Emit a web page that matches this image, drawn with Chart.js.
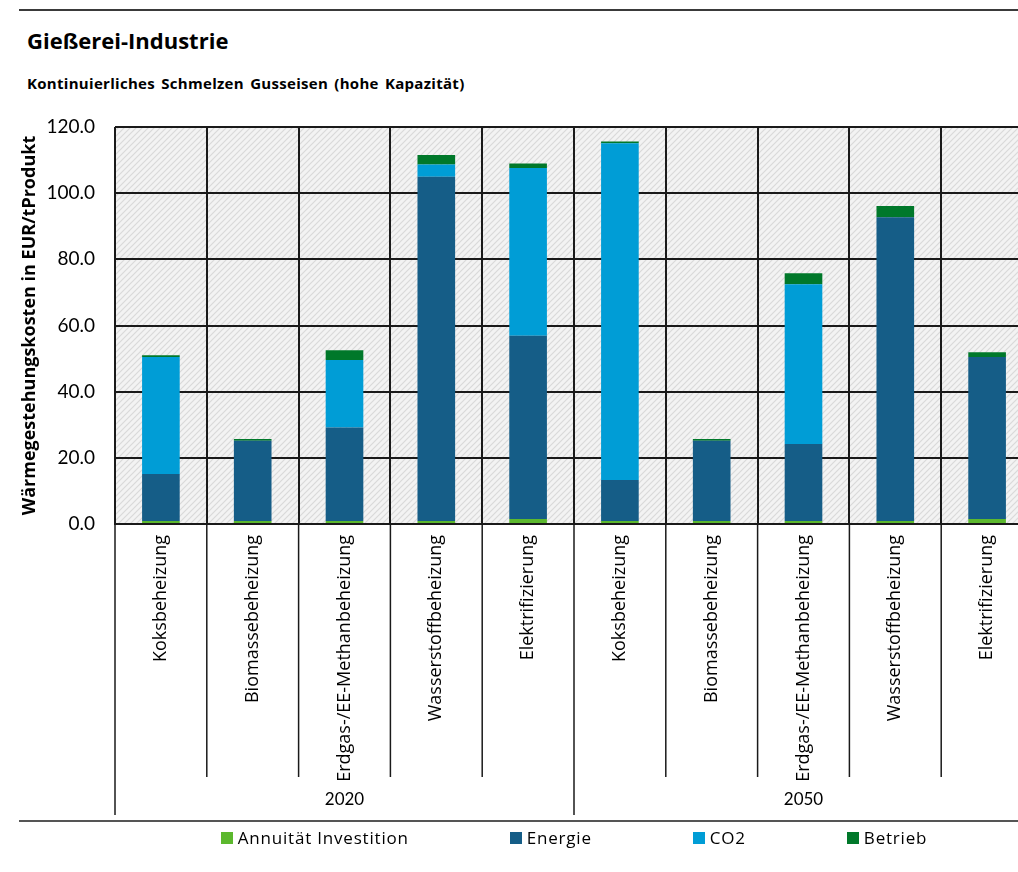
<!DOCTYPE html>
<html>
<head>
<meta charset="utf-8">
<script src="https://cdn.jsdelivr.net/npm/chart.js@4.4.0/dist/chart.umd.min.js"></script>
<style>
    body {
        margin: 0;
        width: 1018px;
        height: 872px;
        overflow: hidden;
        background: #fff;
        position: relative;
        font-family: "Open Sans", sans-serif;
    }
    #costChart {
        position: absolute;
        left: 0;
        top: 0;
    }
    .rule {
        position: absolute;
        left: 19px;
        right: 0;
        height: 2px;
    }
    .title {
        position: absolute;
        left: 27px;
        top: 25px;
        line-height: 1;
        font: bold 22px "Open Sans", sans-serif;
        color: #000;
    }
    .subtitle {
        position: absolute;
        left: 27px;
        top: 73px;
        line-height: 1;
        font: bold 15px "Open Sans", sans-serif;
        letter-spacing: 0.3px;
        word-spacing: 2px;
        color: #000;
    }
    #legend {
        position: absolute;
        left: 115px;
        width: 918px;
        top: 826px;
        display: flex;
        justify-content: center;
        gap: 101px;
        font: 17px "Open Sans", sans-serif;
        letter-spacing: 0.8px;
        color: #000;
    }
    #legend span.item {
        display: flex;
        align-items: center;
        gap: 5px;
    }
    #legend span.box {
        width: 12px;
        height: 12px;
        display: inline-block;
    }
</style>
</head>
<body>
<div class="rule" style="top:9px;background:#3a3a3a"></div>
<div class="title">Gießerei-Industrie</div>
<div class="subtitle">Kontinuierliches Schmelzen Gusseisen (hohe Kapazität)</div>
<canvas id="costChart" width="1040" height="872"></canvas>
<div class="rule" style="top:820px;background:#555"></div>
<div id="legend"></div>

<script>
const categories = [
    "Koksbeheizung",
    "Biomassebeheizung",
    "Erdgas-/EE-Methanbeheizung",
    "Wasserstoffbeheizung",
    "Elektrifizierung",
    "Koksbeheizung",
    "Biomassebeheizung",
    "Erdgas-/EE-Methanbeheizung",
    "Wasserstoffbeheizung",
    "Elektrifizierung",
];
const years = ["2020", "2050"];

const annuitaet = [0.9, 0.9, 0.9, 0.9, 1.5, 0.9, 0.9, 0.9, 0.9, 1.5];
const energie = [14.2, 24.3, 28.3, 104.1, 55.4, 12.4, 24.3, 23.3, 91.8, 49.0];
const co2 = [35.4, 0, 20.4, 3.7, 50.7, 101.8, 0, 48.3, 0, 0];
const betrieb = [0.5, 0.5, 2.9, 2.8, 1.4, 0.5, 0.5, 3.3, 3.4, 1.4];

const seriesNames = ["Annuität Investition", "Energie", "CO2", "Betrieb"];
const seriesColors = ["#5cb82e", "#155d87", "#009dd6", "#00782a"];

function makeHatch() {
    const c = document.createElement("canvas");
    c.width = 6;
    c.height = 6;
    const g = c.getContext("2d");
    g.fillStyle = "#f3f3f3";
    g.fillRect(0, 0, 6, 6);
    g.strokeStyle = "#d9d9d9";
    g.lineWidth = 1.2;
    g.beginPath();
    g.moveTo(0, 6);
    g.lineTo(6, 0);
    g.moveTo(-1, 1);
    g.lineTo(1, -1);
    g.moveTo(5, 7);
    g.lineTo(7, 5);
    g.stroke();
    return c;
}

const hatchBackground = {
    id: "hatchBackground",
    beforeDraw(chart) {
        const { ctx, chartArea } = chart;
        ctx.save();
        ctx.fillStyle = ctx.createPattern(makeHatch(), "repeat");
        ctx.fillRect(
            chartArea.left,
            chartArea.top,
            chartArea.right - chartArea.left,
            chartArea.bottom - chartArea.top
        );
        ctx.restore();
    },
};

// separators under the axis and the year labels
const groupAxis = {
    id: "groupAxis",
    afterDraw(chart) {
        const { ctx } = chart;
        const x = chart.scales.x;
        const bottom = chart.chartArea.bottom;
        const perGroup = categories.length / years.length;

        ctx.save();
        ctx.strokeStyle = "#1a1a1a";
        ctx.lineWidth = 1.5;
        for (let i = 0; i <= categories.length; i++) {
            let px;
            if (i === 0) px = x.left;
            else if (i === categories.length) px = x.right;
            else px = (x.getPixelForTick(i - 1) + x.getPixelForTick(i)) / 2;
            const isGroup = i % perGroup === 0;
            ctx.beginPath();
            ctx.moveTo(px, bottom);
            ctx.lineTo(px, isGroup ? 815 : 777);
            ctx.stroke();
        }

        ctx.fillStyle = "#000";
        ctx.font = "17px Lato";
        ctx.textAlign = "center";
        ctx.textBaseline = "middle";
        years.forEach((year, g) => {
            const first = x.getPixelForTick(g * perGroup);
            const last = x.getPixelForTick(g * perGroup + perGroup - 1);
            ctx.fillText(year, (first + last) / 2, 800);
        });
        ctx.restore();
    },
};

const datasets = [annuitaet, energie, co2, betrieb].map((values, i) => ({
    label: seriesNames[i],
    data: values,
    backgroundColor: seriesColors[i],
    borderWidth: 0,
    categoryPercentage: 1,
    barPercentage: 0.41,
}));

new Chart(document.getElementById("costChart"), {
    type: "bar",
    data: { labels: categories, datasets: datasets },
    plugins: [hatchBackground, groupAxis],
    options: {
        responsive: false,
        animation: false,
        layout: { padding: { top: 127, right: 7, left: 0, bottom: 0 } },
        plugins: {
            legend: { display: false },
            tooltip: { enabled: false },
        },
        scales: {
            x: {
                stacked: true,
                grid: {
                    offset: true,
                    color: "#1a1a1a",
                    lineWidth: 2,
                    drawTicks: false,
                },
                border: { color: "#1a1a1a", width: 2 },
                ticks: {
                    autoSkip: false,
                    maxRotation: 90,
                    minRotation: 90,
                    padding: 11,
                    color: "#000",
                    font: { family: "Open Sans", size: 18 },
                },
                afterFit(scale) {
                    scale.height = 348;
                },
            },
            y: {
                stacked: true,
                min: 0,
                max: 120,
                ticks: {
                    stepSize: 20,
                    padding: 20,
                    color: "#000",
                    font: { family: "Lato", size: 19 },
                    callback: (v) => v.toFixed(1),
                },
                grid: { color: "#1a1a1a", lineWidth: 2, drawTicks: false },
                border: { display: false },
                title: {
                    display: true,
                    text: "Wärmegestehungskosten in EUR/tProdukt",
                    color: "#000",
                    font: { family: "Open Sans", size: 18, weight: "bold" },
                    padding: { top: 19, bottom: 0 },
                },
                afterFit(scale) {
                    scale.width = 115;
                },
            },
        },
    },
});

const legend = document.getElementById("legend");
seriesNames.forEach((name, i) => {
    const item = document.createElement("span");
    item.className = "item";
    const box = document.createElement("span");
    box.className = "box";
    box.style.background = seriesColors[i];
    item.appendChild(box);
    item.appendChild(document.createTextNode(name));
    legend.appendChild(item);
});
</script>
</body>
</html>
